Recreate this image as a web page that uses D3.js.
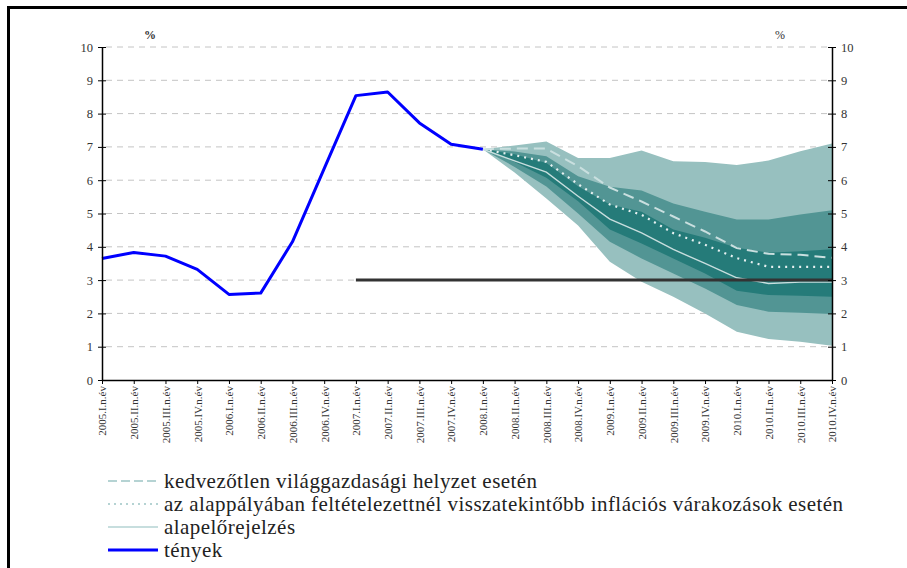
<!DOCTYPE html>
<html>
<head>
    <meta charset="utf-8" />
    <title></title>
    <script src="https://cdn.jsdelivr.net/npm/d3@7"></script>
    <style>
        body { margin: 0; background: #fff; }
        svg text { font-family: "Liberation Serif", serif; fill: #333; }
    </style>
</head>
<body>
    <svg id="chart" width="907" height="568"></svg>
    <script>
        var quarters = ["2005.I.n.év", "2005.II.n.év", "2005.III.n.év", "2005.IV.n.év",
            "2006.I.n.év", "2006.II.n.év", "2006.III.n.év", "2006.IV.n.év",
            "2007.I.n.év", "2007.II.n.év", "2007.III.n.év", "2007.IV.n.év",
            "2008.I.n.év", "2008.II.n.év", "2008.III.n.év", "2008.IV.n.év",
            "2009.I.n.év", "2009.II.n.év", "2009.III.n.év", "2009.IV.n.év",
            "2010.I.n.év", "2010.II.n.év", "2010.III.n.év", "2010.IV.n.év"];

        // actual inflation (ténvek), 2005.I - 2008.I
        var actual = [3.65, 3.83, 3.72, 3.32, 2.57, 2.61, 4.15, 6.35, 8.54, 8.65, 7.72, 7.08, 6.93];

        // forecast period 2008.I - 2010.IV
        var fcQuarters = quarters.slice(12);
        var outerHi = [6.93, 7.04, 7.16, 6.67, 6.67, 6.89, 6.57, 6.55, 6.46, 6.59, 6.87, 7.10];
        var midHi   = [6.93, 6.86, 6.72, 6.12, 5.80, 5.69, 5.30, 5.05, 4.82, 4.82, 4.97, 5.10];
        var innerHi = [6.93, 6.78, 6.52, 5.82, 5.27, 5.05, 4.52, 4.27, 3.97, 3.82, 3.87, 3.93];
        var innerLo = [6.93, 6.55, 6.07, 5.37, 4.52, 4.10, 3.65, 3.20, 2.68, 2.55, 2.53, 2.50];
        var midLo   = [6.93, 6.40, 5.81, 5.00, 4.15, 3.65, 3.20, 2.75, 2.25, 2.05, 2.02, 1.98];
        var outerLo = [6.93, 6.23, 5.45, 4.64, 3.55, 2.95, 2.50, 2.00, 1.45, 1.23, 1.15, 1.03];

        var baseline  = [6.93, 6.58, 6.24, 5.52, 4.83, 4.42, 3.92, 3.50, 3.07, 2.90, 2.94, 2.94];
        var lookback  = [6.93, 6.75, 6.55, 5.88, 5.27, 4.96, 4.41, 4.06, 3.66, 3.40, 3.40, 3.40];
        var adverse   = [6.93, 6.95, 6.95, 6.42, 5.78, 5.36, 4.91, 4.46, 3.96, 3.79, 3.76, 3.67];

        // inflation target 3% from 2007.I
        var targetQuarters = quarters.slice(8);
        var targetValue = 3;

        var yTicks = [0, 1, 2, 3, 4, 5, 6, 7, 8, 9, 10];

        var legendItems = [
            { label: "kedvezőtlen világgazdasági helyzet esetén", type: "adverse" },
            { label: "az alappályában feltételezettnél visszatekintőbb inflációs várakozások esetén", type: "lookback" },
            { label: "alapelőrejelzés", type: "baseline" },
            { label: "tények", type: "actual" }
        ];

        var svg = d3.select('#chart');

        var x = d3.scalePoint().domain(quarters).range([102, 832]);
        var y = d3.scaleLinear().domain([0, 10]).range([380, 47]);

        // frame
        svg.append('path')
            .attr('d', 'M8.5,568 L8.5,7.5 L907,7.5')
            .attr('fill', 'none').attr('stroke', '#000').attr('stroke-width', 3);

        // gridlines
        svg.append('g').selectAll('line')
            .data(yTicks.slice(1))
            .enter().append('line')
            .attr('x1', 106).attr('x2', 828)
            .attr('y1', function (d) { return y(d); })
            .attr('y2', function (d) { return y(d); })
            .attr('stroke', '#c4c4c4')
            .attr('stroke-dasharray', '6,5');

        // fan chart
        function band(hi, lo) {
            return d3.area()
                .x(function (d, i) { return x(fcQuarters[i]); })
                .y0(function (d, i) { return y(lo[i]); })
                .y1(function (d, i) { return y(hi[i]); })(hi);
        }
        svg.append('path').attr('d', band(outerHi, outerLo)).attr('fill', '#97c0bf');
        svg.append('path').attr('d', band(midHi, midLo)).attr('fill', '#529594');
        svg.append('path').attr('d', band(innerHi, innerLo)).attr('fill', '#257b79');

        var fcLine = d3.line()
            .x(function (d, i) { return x(fcQuarters[i]); })
            .y(function (d) { return y(d); });

        svg.append('path').attr('d', fcLine(adverse))
            .attr('fill', 'none').attr('stroke', '#c9dfdf').attr('stroke-width', 2)
            .attr('stroke-dasharray', '11,6');
        svg.append('path').attr('d', fcLine(lookback))
            .attr('fill', 'none').attr('stroke', '#e6f1f1').attr('stroke-width', 2.2)
            .attr('stroke-dasharray', '2,5');
        svg.append('path').attr('d', fcLine(baseline))
            .attr('fill', 'none').attr('stroke', '#c8dede').attr('stroke-width', 1.4);

        // target line
        svg.append('line')
            .attr('x1', x(targetQuarters[0]))
            .attr('x2', x(targetQuarters[targetQuarters.length - 1]))
            .attr('y1', y(targetValue)).attr('y2', y(targetValue))
            .attr('stroke', '#333').attr('stroke-width', 3);

        // actual
        svg.append('path')
            .attr('d', d3.line()
                .x(function (d, i) { return x(quarters[i]); })
                .y(function (d) { return y(d); })(actual))
            .attr('fill', 'none').attr('stroke', '#0000ff').attr('stroke-width', 3)
            .attr('stroke-linejoin', 'round');

        // axes
        var left = svg.append('g').attr('transform', 'translate(102,0)')
            .call(d3.axisLeft(y).tickValues(yTicks).tickSize(4).tickSizeOuter(0));
        var right = svg.append('g').attr('transform', 'translate(832,0)')
            .call(d3.axisRight(y).tickValues(yTicks).tickSize(4).tickSizeOuter(0));
        [left, right].forEach(function (g) {
            g.select('.domain').attr('stroke', '#000').attr('stroke-width', 1.5);
            g.selectAll('.tick line').attr('x1', -4).attr('x2', 4).attr('stroke', '#000');
            g.selectAll('.tick text').style('font-size', '12.5px');
        });
        left.selectAll('.tick text').attr('x', -9);
        right.selectAll('.tick text').attr('x', 9);

        var bottom = svg.append('g').attr('transform', 'translate(0,380)')
            .call(d3.axisBottom(x).tickSize(4).tickSizeOuter(0));
        bottom.select('.domain').attr('stroke', '#000').attr('stroke-width', 1.5);
        bottom.selectAll('.tick line').attr('stroke', '#000');
        bottom.selectAll('.tick text')
            .style('font-size', '11px')
            .attr('text-anchor', 'end')
            .attr('transform', 'rotate(-90)')
            .attr('x', -6).attr('y', 0).attr('dy', '0.35em');

        svg.append('text').attr('x', 150).attr('y', 39).attr('text-anchor', 'middle')
            .style('font-size', '12px').style('font-weight', 'bold').text('%');
        svg.append('text').attr('x', 780).attr('y', 39).attr('text-anchor', 'middle')
            .style('font-size', '12px').text('%');

        // legend
        var legend = svg.append('g').attr('transform', 'translate(108,481)');
        var rows = legend.selectAll('g').data(legendItems).enter().append('g')
            .attr('transform', function (d, i) { return 'translate(0,' + (i * 23) + ')'; });
        rows.append('line')
            .attr('x1', 0).attr('x2', 50).attr('y1', 0).attr('y2', 0)
            .attr('stroke', function (d) { return d.type === 'actual' ? '#0000ff' : '#b5d3d3'; })
            .attr('stroke-width', function (d) {
                return d.type === 'actual' ? 3 : (d.type === 'baseline' ? 1.3 : 2);
            })
            .attr('stroke-dasharray', function (d) {
                return d.type === 'adverse' ? '9,4' : (d.type === 'lookback' ? '2,4' : null);
            });
        rows.append('text')
            .attr('x', 56).attr('y', 0).attr('dy', '0.32em')
            .style('font-size', '21px').style('letter-spacing', '0.45px')
            .style('fill', '#222')
            .text(function (d) { return d.label; });
    </script>
</body>
</html>
